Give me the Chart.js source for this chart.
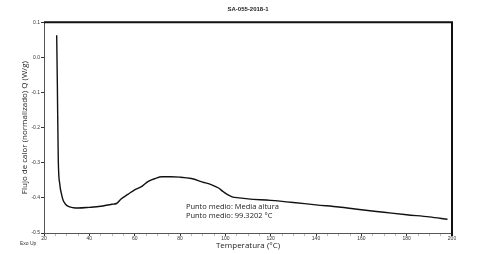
<!DOCTYPE html>
<html>
<head>
<meta charset="utf-8">
<script src="https://cdn.jsdelivr.net/npm/chart.js@4/dist/chart.umd.min.js"></script>
<style>
html,body{margin:0;padding:0;background:#fff;}
#wrap{width:478px;height:254px;position:relative;}
</style>
</head>
<body>
<div id="wrap"><canvas id="c" width="478" height="254"></canvas></div>
<script>
// Data
const temperature = [25.6, 25.9, 26.3, 27.0, 27.6, 28.4, 29.5, 31.0, 33.0, 35, 40, 45, 50, 52, 54, 57, 60, 63, 66, 69, 72, 76, 80, 85, 90, 94, 97, 99, 101, 103, 106, 110, 120, 130, 140, 150, 160, 170, 180, 190, 198];
const heatFlow = [0.063, -0.084, -0.292, -0.363, -0.386, -0.406, -0.418, -0.425, -0.428, -0.429, -0.427, -0.424, -0.418, -0.416, -0.403, -0.390, -0.377, -0.368, -0.353, -0.345, -0.340, -0.340, -0.341, -0.345, -0.355, -0.363, -0.372, -0.382, -0.391, -0.397, -0.400, -0.403, -0.407, -0.413, -0.420, -0.426, -0.434, -0.441, -0.448, -0.454, -0.461];
const xTickValues = [20, 40, 60, 80, 100, 120, 140, 160, 180, 200];
const yTickValues = [0.1, 0.0, -0.1, -0.2, -0.3, -0.4, -0.5];
const chartTitle = 'SA-055-2018-1';
const xTitle = 'Temperatura (°C)';
const yTitle = 'Flujo de calor (normalizado) Q (W/g)';
const annotationLines = ['Punto medio: Media altura', 'Punto medio: 99.3202 °C'];
const cornerNote = 'Exo Up';

const points = temperature.map((t, i) => ({x: t, y: heatFlow[i]}));

const decor = {
  id: 'decor',
  afterDraw(chart) {
    const ctx = chart.ctx, a = chart.chartArea;
    const xs = chart.scales.x, ys = chart.scales.y;
    ctx.save();
    // frame top and right
    ctx.strokeStyle = '#111';
    ctx.lineWidth = 2;
    ctx.beginPath();
    ctx.moveTo(a.left, a.top);
    ctx.lineTo(a.right, a.top);
    ctx.lineTo(a.right, a.bottom + 3);
    ctx.stroke();
    // annotation text
    ctx.fillStyle = '#222';
    ctx.font = '7.5px "Open Sans"';
    ctx.textBaseline = 'middle';
    ctx.textAlign = 'left';
    const ax = xs.getPixelForValue(82.6);
    ctx.fillText(annotationLines[0], ax, ys.getPixelForValue(-0.425));
    ctx.fillText(annotationLines[1], ax, ys.getPixelForValue(-0.450));
    // Exo Up
    ctx.font = '5px "Liberation Sans"';
    ctx.fillStyle = '#333';
    ctx.fillText(cornerNote, 20, 244);
    ctx.restore();
  }
};

new Chart(document.getElementById('c'), {
  type: 'line',
  data: {
    datasets: [{
      data: points,
      borderColor: '#111',
      borderWidth: 1.4,
      pointRadius: 0,
      fill: false,
      cubicInterpolationMode: 'monotone'
    }]
  },
  options: {
    responsive: false,
    animation: false,
    layout: {padding: {top: 0, right: 26, bottom: 0, left: 0}},
    plugins: {
      legend: {display: false},
      tooltip: {enabled: false},
      title: {
        display: true,
        text: chartTitle,
        fullSize: false,
        color: '#222',
        font: {family: 'Liberation Sans', size: 6, weight: 'bold'},
        padding: {top: 6, bottom: 9}
      }
    },
    scales: {
      x: {
        type: 'linear',
        min: 20, max: 200,
        afterFit(s) { s.height = 21; },
        afterBuildTicks(s) {
          const t = [];
          for (let v = 20; v <= 200; v += 5) t.push({value: v});
          s.ticks = t;
        },
        ticks: {
          autoSkip: false,
          maxRotation: 0,
          padding: 0,
          color: '#333',
          font: {family: 'Liberation Sans', size: 5},
          callback: v => xTickValues.includes(v) ? String(v) : ''
        },
        grid: {
          drawOnChartArea: false,
          drawTicks: true,
          tickLength: 3,
          tickColor: c => (c.tick && xTickValues.includes(c.tick.value)) ? '#333' : '#888',
          tickWidth: c => (c.tick && xTickValues.includes(c.tick.value)) ? 1 : 0.6
        },
        border: {display: true, color: '#555', width: 1},
        title: {
          display: true,
          text: xTitle,
          color: '#222',
          font: {family: 'Open Sans', size: 8},
          padding: {top: 0, bottom: 3}
        }
      },
      y: {
        type: 'linear',
        min: -0.5, max: 0.1,
        afterFit(s) { s.width = 44; },
        afterBuildTicks(s) { s.ticks = yTickValues.map(v => ({value: v})); },
        ticks: {
          padding: 1,
          color: '#333',
          font: {family: 'Liberation Sans', size: 5},
          callback: v => (Math.abs(v) < 1e-9 ? 0 : v).toFixed(1)
        },
        grid: {drawOnChartArea: false, drawTicks: true, tickLength: 3, tickColor: '#333'},
        border: {display: true, color: '#555', width: 1},
        title: {
          display: true,
          text: yTitle,
          color: '#222',
          font: {family: 'Open Sans', size: 8},
          padding: {top: 20, bottom: 0}
        }
      }
    }
  },
  plugins: [decor]
});
</script>
</body>
</html>
